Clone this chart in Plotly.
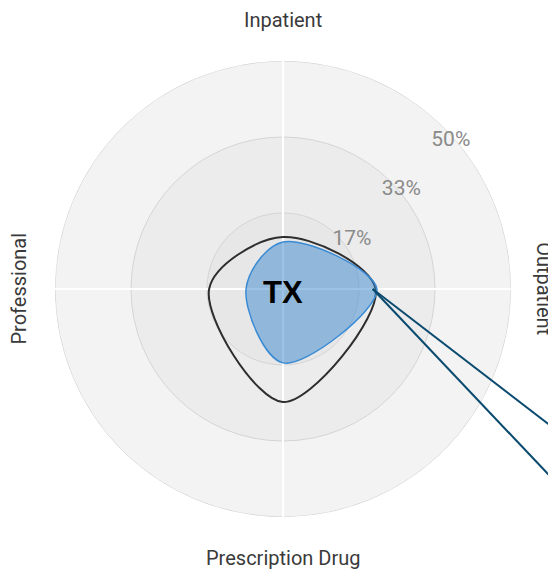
import plotly.graph_objects as go

# ─── data ─────────────────────────────────────────────────────────────────────
categories = ["Inpatient", "Outpatient", "Prescription Drug", "Professional"]
angles     = [0, 90, 180, 270]            # clockwise from top

state_vals     = [10.3, 20.6, 16.2, 8.1]   # TX (blue, filled)
benchmark_vals = [11.4, 20.3, 24.8, 16.2]  # comparison outline (black)

ring_vals   = [50, 33.33, 16.67]
ring_colors = ["#f3f3f3", "#ececec", "#e7e7e7"]
tick_vals   = [16.67, 33.33, 50]
tick_text   = ["17%", "33%", "50%"]
state_label = "TX"

R_MAX = 50

fig = go.Figure()

# shaded concentric rings
fig.add_trace(go.Barpolar(
    r=ring_vals, theta=[180] * len(ring_vals), width=[360] * len(ring_vals),
    marker=dict(color=ring_colors, line=dict(color="#d4d4d4", width=1)),
    hoverinfo="skip", showlegend=False,
))

# white spokes
spoke_r, spoke_t = [], []
for a in angles:
    spoke_r += [0, R_MAX, None]
    spoke_t += [a, a, None]
fig.add_trace(go.Scatterpolar(
    r=spoke_r, theta=spoke_t, mode="lines",
    line=dict(color="white", width=2),
    hoverinfo="skip", showlegend=False,
))

# benchmark outline
fig.add_trace(go.Scatterpolar(
    r=benchmark_vals + benchmark_vals[:1], theta=angles + angles[:1],
    mode="lines", line=dict(color="#2e2e2e", width=2, shape="spline", smoothing=1.0),
    showlegend=False,
))

# state shape
fig.add_trace(go.Scatterpolar(
    r=state_vals + state_vals[:1], theta=angles + angles[:1],
    mode="lines", fill="toself", fillcolor="rgba(59,138,208,0.5)",
    line=dict(color="#3a8bd4", width=1.5, shape="spline", smoothing=1.0),
    showlegend=False,
))

# radial tick labels, just inside each ring on the 45° line
fig.add_trace(go.Scatterpolar(
    r=[v * 0.92 for v in tick_vals], theta=[45] * len(tick_vals),
    mode="text", text=tick_text, textposition="middle right", cliponaxis=False,
    textfont=dict(family="Roboto", size=21, color="#8a8a8a"),
    hoverinfo="skip", showlegend=False,
))

# state label in the centre (polar centre = paper 0.5, 0.5)
fig.add_annotation(
    text=f"<b>{state_label}</b>", xref="paper", yref="paper", x=0.5, y=0.5,
    showarrow=False, xanchor="center", yanchor="middle", yshift=-3,
    font=dict(family="Liberation Sans, Arial", size=31, color="black"),
)

# category labels around the chart
label_pos = [
    dict(x=0.5,    y=1.09,  textangle=0),
    dict(x=1.072,  y=0.5,   textangle=90),
    dict(x=0.5,    y=-0.09, textangle=0),
    dict(x=-0.08,  y=0.5,   textangle=-90),
]
for cat, pos in zip(categories, label_pos):
    fig.add_annotation(
        text=cat, xref="paper", yref="paper", showarrow=False,
        xanchor="center", yanchor="middle",
        font=dict(family="Roboto", size=20, color="#3a3a3a"), **pos,
    )

# callout lines from the Outpatient point
x0 = 0.5 + 0.5 * state_vals[1] / R_MAX * 0.955
for y_end in [0.117, -0.026]:
    fig.add_shape(type="line", xref="paper", yref="paper",
                  x0=x0, y0=0.5, x1=1.195, y1=y_end,
                  line=dict(color="#0b4a6f", width=2))

# page body has an 8px margin, so the figure is shifted and shrunk by that
fig.update_layout(
    width=548, height=565,
    margin=dict(l=47, r=45, t=53, b=56),
    paper_bgcolor="white",
    polar=dict(
        bgcolor="rgba(0,0,0,0)",
        barmode="overlay",
        angularaxis=dict(direction="clockwise", rotation=90, thetaunit="degrees",
                         showgrid=False, showline=False, showticklabels=False, ticks=""),
        radialaxis=dict(range=[0, R_MAX], visible=False),
    ),
)

fig.write_html("out.html")
